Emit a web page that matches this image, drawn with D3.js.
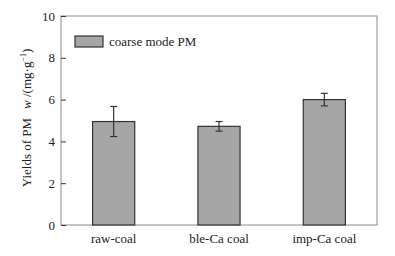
<!DOCTYPE html>
<html><head><meta charset="utf-8">
<script src="https://cdn.jsdelivr.net/npm/d3@7"></script>
<style>body{margin:0;background:#fff}svg{display:block}</style>
</head><body>
<script>
const categories = ["raw-coal", "ble-Ca coal", "imp-Ca coal"];
const values = [4.95, 4.72, 6.0];
const errors = [0.72, 0.23, 0.30];
const yTicks = [0, 2, 4, 6, 8, 10];
const legendLabel = "coarse mode PM";

const W = 395, H = 256;
const FONT = "'Liberation Serif', 'Times New Roman', serif";
const m = {left: 61, right: 18, top: 16, bottom: 31};
const svg = d3.select("body").append("svg").attr("width", W).attr("height", H);
const x = d3.scaleBand().domain(categories).range([m.left, W - m.right]).paddingInner(0.6).paddingOuter(0.3);
const y = d3.scaleLinear().domain([0, 10]).range([H - m.bottom, m.top]);

// frame
svg.append("rect").attr("x", m.left).attr("y", m.top).attr("width", W - m.right - m.left).attr("height", H - m.bottom - m.top)
  .attr("fill", "none").attr("stroke", "#8c8c8c").attr("stroke-width", 1);

// y axis
const ya = svg.append("g").attr("transform", `translate(${m.left},0)`)
  .call(d3.axisRight(y).tickValues(yTicks).tickSize(5).tickFormat(d3.format("d")));
ya.attr("font-family", null);
ya.select(".domain").remove();
ya.selectAll("line").attr("stroke", "#333");
ya.selectAll("text").attr("x", -6).attr("text-anchor", "end").attr("font-size", 13).attr("fill", "#222");

// x labels
const xa = svg.append("g").attr("transform", `translate(0,${H - m.bottom})`)
  .call(d3.axisBottom(x).tickSize(0).tickPadding(9));
xa.attr("font-family", null);
xa.select(".domain").remove();
xa.selectAll("text").attr("font-size", 13).attr("fill", "#222");

// bars
svg.selectAll(".bar").data(categories).enter().append("rect")
  .attr("x", d => x(d)).attr("width", x.bandwidth())
  .attr("y", (d, i) => y(values[i])).attr("height", (d, i) => y(0) - y(values[i]))
  .attr("fill", "#a6a6a6").attr("stroke", "#333").attr("stroke-width", 1.2);

// error bars
const eb = svg.selectAll(".err").data(categories).enter().append("g").attr("stroke", "#333").attr("stroke-width", 1.2);
eb.append("line").attr("x1", d => x(d) + x.bandwidth() / 2).attr("x2", d => x(d) + x.bandwidth() / 2)
  .attr("y1", (d, i) => y(values[i] + errors[i])).attr("y2", (d, i) => y(values[i] - errors[i]));
eb.append("line").attr("x1", d => x(d) + x.bandwidth() / 2 - 3.5).attr("x2", d => x(d) + x.bandwidth() / 2 + 3.5)
  .attr("y1", (d, i) => y(values[i] + errors[i])).attr("y2", (d, i) => y(values[i] + errors[i]));
eb.append("line").attr("x1", d => x(d) + x.bandwidth() / 2 - 3.5).attr("x2", d => x(d) + x.bandwidth() / 2 + 3.5)
  .attr("y1", (d, i) => y(values[i] - errors[i])).attr("y2", (d, i) => y(values[i] - errors[i]));

// legend
svg.append("rect").attr("x", 75).attr("y", 36).attr("width", 28).attr("height", 11)
  .attr("fill", "#a6a6a6").attr("stroke", "#333").attr("stroke-width", 1.2);
svg.append("text").attr("x", 109).attr("y", 46).attr("font-size", 13).attr("fill", "#222").text(legendLabel);

// y title
const yt = svg.append("text").attr("transform", "translate(31,118) rotate(-90)").attr("text-anchor", "middle")
  .attr("font-size", 13).attr("fill", "#222");
yt.append("tspan").text("Yields of PM");
yt.append("tspan").attr("dx", 9).attr("font-style", "italic").text("w");
yt.append("tspan").text(" /(mg·g");
yt.append("tspan").attr("font-size", 8).attr("dy", -5).text("−1");
yt.append("tspan").attr("dy", 5).text(")");

svg.selectAll("text").style("font-family", FONT);
</script>
</body></html>
